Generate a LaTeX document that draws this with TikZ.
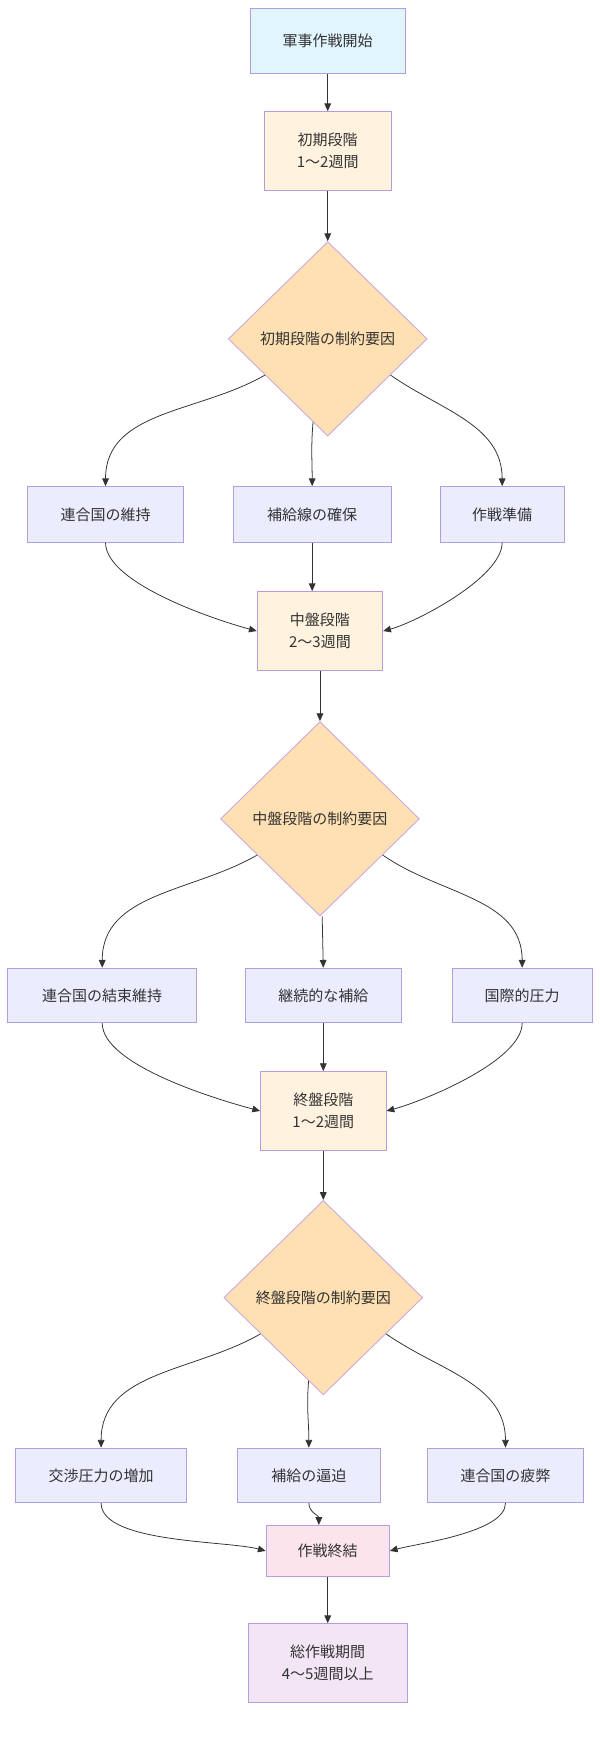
\documentclass[tikz,border=0pt]{standalone}
\usepackage{fontspec}
\setmainfont{Noto Sans CJK JP}
\usetikzlibrary{shapes.geometric,arrows.meta}
\definecolor{bd}{HTML}{B39DDB}
\definecolor{dbd}{HTML}{C9A9E0}
\definecolor{cStart}{HTML}{E1F5FE}
\definecolor{cPhase}{HTML}{FFF3E0}
\definecolor{cDia}{HTML}{FFE0B2}
\definecolor{cBox}{HTML}{ECECFF}
\definecolor{cEnd}{HTML}{FCE4EC}
\definecolor{cTot}{HTML}{F3E5F5}
\definecolor{ln}{HTML}{333333}
\begin{document}
\begin{tikzpicture}[x=1pt,y=-1pt,
  every node/.style={font=\fontsize{13.5}{20}\selectfont, text=ln, align=center},
  box/.style={draw=bd, line width=0.8pt, inner sep=0pt},
  dia/.style={diamond, draw=dbd, fill=cDia, line width=0.8pt, minimum width=179pt, minimum height=175pt, inner sep=0pt, aspect=1},
  ar/.style={draw=ln, line width=0.7pt, -{Triangle[length=7pt,width=6pt]}}]
\useasboundingbox (0,0) rectangle (540,1568);
\node[box, fill=cStart, minimum width=140pt, minimum height=58pt] (s) at (295,37) {軍事作戦開始};
\node[box, fill=cPhase, minimum width=114pt, minimum height=71pt] (p1) at (295,136) {初期段階\\1～2週間};
\node[dia] (d1) at (295,305) {初期段階の制約要因};
\node[box, fill=cBox, minimum width=140pt, minimum height=50pt] (a1) at (95,463) {連合国の維持};
\node[box, fill=cBox, minimum width=142pt, minimum height=50pt] (b1) at (281,463) {補給線の確保};
\node[box, fill=cBox, minimum width=112pt, minimum height=50pt] (c1) at (452,463) {作戦準備};
\node[box, fill=cPhase, minimum width=113pt, minimum height=71pt] (p2) at (288,568) {中盤段階\\2～3週間};
\node[dia] (d2) at (288,737) {中盤段階の制約要因};
\node[box, fill=cBox, minimum width=170pt, minimum height=49pt] (a2) at (92,896) {連合国の結束維持};
\node[box, fill=cBox, minimum width=140pt, minimum height=49pt] (b2) at (291,896) {継続的な補給};
\node[box, fill=cBox, minimum width=126pt, minimum height=49pt] (c2) at (470,896) {国際的圧力};
\node[box, fill=cPhase, minimum width=113pt, minimum height=71pt] (p3) at (291,1000) {終盤段階\\1～2週間};
\node[dia] (d3) at (291,1168) {終盤段階の制約要因};
\node[box, fill=cBox, minimum width=154pt, minimum height=49pt] (a3) at (91,1328) {交渉圧力の増加};
\node[box, fill=cBox, minimum width=128pt, minimum height=49pt] (b3) at (278,1328) {補給の逼迫};
\node[box, fill=cBox, minimum width=140pt, minimum height=49pt] (c3) at (455,1328) {連合国の疲弊};
\node[box, fill=cEnd, minimum width=111pt, minimum height=46pt] (e) at (295,1396) {作戦終結};
\node[box, fill=cTot, minimum width=143pt, minimum height=71pt] (t) at (295,1497) {総作戦期間\\4～5週間以上};

\draw[ar] (s) -- (p1);
\draw[ar] (p1) -- (d1);
\draw[ar] (d1.210) to[out=210,in=90] (a1.north);
\draw[ar] (d1.-100) to[out=-95,in=90] (b1.north);
\draw[ar] (d1.-30) to[out=-35,in=90] (c1.north);
\draw[ar] (a1.south) to[out=-90,in=165,looseness=0.6] (p2.west);
\draw[ar] (b1.south) to[out=-90,in=90] (p2.north -| b1.south);
\draw[ar] (c1.south) to[out=-90,in=15,looseness=0.6] (p2.east);
\draw[ar] (p2) -- (d2);
\draw[ar] (d2.210) to[out=210,in=90] (a2.north);
\draw[ar] (d2.south) ++(2,0) coordinate (q2) (q2) -- (b2.north);
\draw[ar] (d2.-30) to[out=-35,in=90] (c2.north);
\draw[ar] (a2.south) to[out=-90,in=165,looseness=0.6] (p3.west);
\draw[ar] (b2.south) -- (p3.north -| b2.south);
\draw[ar] (c2.south) to[out=-90,in=15,looseness=0.6] (p3.east);
\draw[ar] (p3) -- (d3);
\draw[ar] (d3.210) to[out=210,in=90] (a3.north);
\draw[ar] (d3.-100) to[out=-95,in=90] (b3.north);
\draw[ar] (d3.-30) to[out=-35,in=90] (c3.north);
\draw[ar] (a3.south) to[out=-90,in=165,looseness=0.6] (e.west);
\draw[ar] (b3.south) to[out=-90,in=90] ([xshift=-8pt]e.north);
\draw[ar] (c3.south) to[out=-90,in=15,looseness=0.6] (e.east);
\draw[ar] (e) -- (t);
\end{tikzpicture}
\end{document}
